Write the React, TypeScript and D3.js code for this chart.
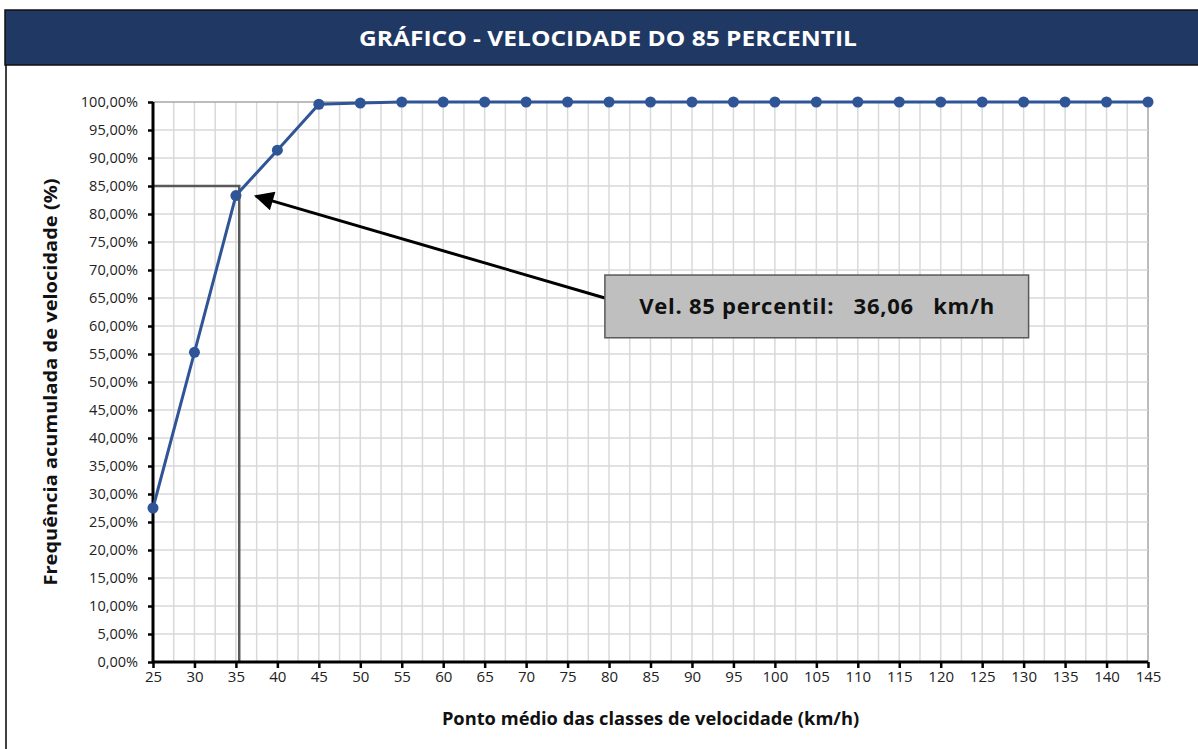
import { useEffect, useRef } from 'react';
import * as d3 from 'd3';

// data
const speeds = [25, 30, 35, 40, 45, 50, 55, 60, 65, 70, 75, 80, 85, 90, 95, 100, 105, 110, 115, 120, 125, 130, 135, 140, 145];
const cumulative = [27.5, 55.3, 83.3, 91.4, 99.6, 99.8, 100, 100, 100, 100, 100, 100, 100, 100, 100, 100, 100, 100, 100, 100, 100, 100, 100, 100, 100];
const yTicks = [0, 5, 10, 15, 20, 25, 30, 35, 40, 45, 50, 55, 60, 65, 70, 75, 80, 85, 90, 95, 100];

const titleText = 'GRÁFICO - VELOCIDADE DO 85 PERCENTIL';
const xTitle = 'Ponto médio das classes de velocidade (km/h)';
const yTitle = 'Frequência acumulada de velocidade (%)';
const boxLabel = 'Vel. 85 percentil:   36,06   km/h';

// 85th percentile marker, as drawn
const p85 = { x: 35.4, y: 85 };
const arrowFrom = { x: 79.5, y: 65 };
const arrowTo = { x: 37.4, y: 83.2 };
const boxArea = { x0: 79.5, x1: 130.6, y0: 69.1, y1: 57.9 };

const width = 1198;
const height = 749;
const font = "'Open Sans', 'Noto Sans', sans-serif";

export default function App() {
  const ref = useRef<SVGSVGElement | null>(null);

  useEffect(() => {
    const svg = d3.select(ref.current);
    svg.selectAll('*').remove();

    const margin = { top: 102, right: 50, bottom: 87, left: 153 };
    const innerWidth = width - margin.left - margin.right;
    const innerHeight = height - margin.top - margin.bottom;

    const x = d3.scaleLinear().domain([25, 145]).range([0, innerWidth]);
    const y = d3.scaleLinear().domain([0, 100]).range([innerHeight, 0]);

    svg.append('rect').attr('width', width).attr('height', height).attr('fill', '#fff');

    // frame + title bar
    svg.append('line')
      .attr('x1', 6).attr('x2', 6).attr('y1', 10).attr('y2', height)
      .attr('stroke', '#404040').attr('stroke-width', 2);
    svg.append('rect')
      .attr('x', 5).attr('y', 10).attr('width', width).attr('height', 55)
      .attr('fill', '#203864').attr('stroke', '#111').attr('stroke-width', 1.5);
    svg.append('text')
      .attr('x', 608).attr('y', 46)
      .attr('text-anchor', 'middle')
      .attr('fill', '#fff')
      .attr('font-family', font)
      .attr('font-weight', 700)
      .attr('font-size', 22)
      .attr('textLength', 498)
      .attr('lengthAdjust', 'spacingAndGlyphs')
      .text(titleText);

    const g = svg.append('g').attr('transform', `translate(${margin.left},${margin.top})`);

    // grid
    const xGrid = d3.range(25, 145.01, 2.5);
    g.append('g').selectAll('line').data(xGrid).join('line')
      .attr('x1', d => x(d)).attr('x2', d => x(d))
      .attr('y1', 0).attr('y2', innerHeight)
      .attr('stroke', d => (d === 145 ? '#a6a6a6' : '#d9d9d9'))
      .attr('stroke-width', 1.5);
    g.append('g').selectAll('line').data(yTicks).join('line')
      .attr('x1', 0).attr('x2', innerWidth)
      .attr('y1', d => y(d)).attr('y2', d => y(d))
      .attr('stroke', d => (d === 100 ? '#a6a6a6' : '#d9d9d9'))
      .attr('stroke-width', 1.5);

    // 85 percentile guide lines
    g.append('path')
      .attr('d', `M${x(25)},${y(p85.y)}H${x(p85.x)}V${y(0)}`)
      .attr('fill', 'none')
      .attr('stroke', '#595959')
      .attr('stroke-width', 2.5);

    // axes
    const yAxis = g.append('g').call(
      d3.axisLeft(y).tickValues(yTicks).tickSize(5).tickPadding(10)
        .tickFormat(d => `${(+d).toFixed(2).replace('.', ',')}%`)
    );
    const xAxis = g.append('g').attr('transform', `translate(0,${innerHeight})`).call(
      d3.axisBottom(x).tickValues(speeds).tickSize(6).tickPadding(3).tickFormat(d => `${d}`)
    );
    [yAxis, xAxis].forEach(a => {
      a.select('.domain').attr('stroke', '#000').attr('stroke-width', 3);
      a.selectAll('.tick line').attr('stroke', '#000').attr('stroke-width', 2.5);
      a.selectAll('.tick text')
        .attr('fill', '#222')
        .attr('font-family', font)
        .attr('font-size', 15);
    });
    yAxis.selectAll('.tick text').attr('font-size', 14.5);
    yAxis.select('.domain').attr('d', `M0,${innerHeight}V0`);
    xAxis.select('.domain').attr('d', `M0,0H${innerWidth}`);

    // series
    const pts = speeds.map((s, i) => ({ x: s, y: cumulative[i] }));
    const line = d3.line<{ x: number; y: number }>().x(d => x(d.x)).y(d => y(d.y));
    g.append('path')
      .datum(pts)
      .attr('fill', 'none')
      .attr('stroke', '#2f5597')
      .attr('stroke-width', 3)
      .attr('d', line);
    g.append('g').selectAll('circle').data(pts).join('circle')
      .attr('cx', d => x(d.x)).attr('cy', d => y(d.y)).attr('r', 5.5)
      .attr('fill', '#2f5597');

    // arrow
    const defs = svg.append('defs');
    defs.append('marker')
      .attr('id', 'arrowhead')
      .attr('viewBox', '0 0 10 10')
      .attr('refX', 9).attr('refY', 5)
      .attr('markerWidth', 7).attr('markerHeight', 6.5)
      .attr('orient', 'auto')
      .attr('markerUnits', 'strokeWidth')
      .append('path').attr('d', 'M0,0L10,5L0,10Z').attr('fill', '#000');
    g.append('line')
      .attr('x1', x(arrowFrom.x)).attr('y1', y(arrowFrom.y))
      .attr('x2', x(arrowTo.x)).attr('y2', y(arrowTo.y))
      .attr('stroke', '#000').attr('stroke-width', 3)
      .attr('marker-end', 'url(#arrowhead)');

    // label box
    g.append('rect')
      .attr('x', x(boxArea.x0)).attr('y', y(boxArea.y0))
      .attr('width', x(boxArea.x1) - x(boxArea.x0))
      .attr('height', y(boxArea.y1) - y(boxArea.y0))
      .attr('fill', '#bfbfbf').attr('stroke', '#595959').attr('stroke-width', 1.5);
    g.append('text')
      .attr('x', (x(boxArea.x0) + x(boxArea.x1)) / 2)
      .attr('y', (y(boxArea.y0) + y(boxArea.y1)) / 2 + 8)
      .attr('text-anchor', 'middle')
      .attr('font-family', font)
      .attr('font-weight', 700)
      .attr('font-size', 22)
      .attr('fill', '#111')
      .attr('textLength', 355)
      .attr('lengthAdjust', 'spacing')
      .style('white-space', 'pre')
      .text(boxLabel);

    // axis titles
    svg.append('text')
      .attr('x', margin.left + innerWidth / 2)
      .attr('y', 725)
      .attr('text-anchor', 'middle')
      .attr('font-family', font)
      .attr('font-weight', 700)
      .attr('font-size', 18.3)
      .attr('fill', '#111')
      .text(xTitle);
    svg.append('text')
      .attr('transform', `translate(57,${margin.top + 280}) rotate(-90)`)
      .attr('text-anchor', 'middle')
      .attr('font-family', font)
      .attr('font-weight', 700)
      .attr('font-size', 18.5)
      .attr('fill', '#111')
      .attr('textLength', 407)
      .attr('lengthAdjust', 'spacingAndGlyphs')
      .text(yTitle);
  }, []);

  return (
    <svg
      ref={ref}
      width={width}
      height={height}
      style={{ position: 'absolute', left: 0, top: 0, display: 'block' }}
    />
  );
}
